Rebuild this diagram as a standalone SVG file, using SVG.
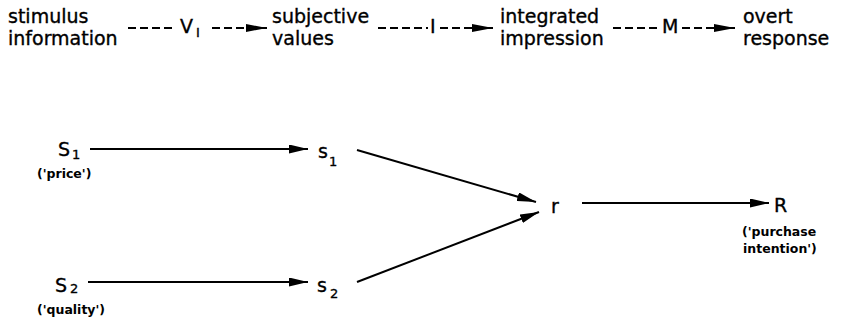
<svg xmlns="http://www.w3.org/2000/svg" width="841" height="321" viewBox="0 0 841 321">
<style>
text{font-family:"DejaVu Sans","Liberation Sans",sans-serif;fill:#000;stroke:#000;stroke-width:0.35}
.t{font-size:19px}
.b{font-size:19px}
.sub{font-size:13px}
.lab{font-size:12.5px;font-weight:bold;stroke-width:0}
.dash{stroke:#000;stroke-width:2;stroke-dasharray:8 4;fill:none}
.solid{stroke:#000;stroke-width:2;fill:none}
</style>
<defs>
<marker id="ah" markerUnits="userSpaceOnUse" markerWidth="22" markerHeight="8" refX="21" refY="4" orient="auto">
<path d="M0,0 L21,4 L0,8 z" fill="#000"/>
</marker>
<marker id="ab" markerUnits="userSpaceOnUse" markerWidth="20" markerHeight="9" refX="19" refY="4.5" orient="auto">
<path d="M0,0 L19,4.5 L0,9 z" fill="#000"/>
</marker>
</defs>
<g id="connectors">
<line class="dash" x1="128" y1="28" x2="176" y2="28"/>
<line class="dash" x1="212" y1="28" x2="267" y2="28" marker-end="url(#ah)"/>
<line class="dash" x1="378" y1="28" x2="428" y2="28"/>
<line class="dash" x1="440" y1="28" x2="493" y2="28" marker-end="url(#ah)"/>
<line class="dash" x1="613" y1="28" x2="660" y2="28"/>
<line class="dash" x1="682" y1="28" x2="735" y2="28" marker-end="url(#ah)"/>
<text class="t" x="180" y="33">V</text>
<text class="sub" x="196" y="37">I</text>
<text class="t" x="430" y="33">I</text>
<text class="t" x="662" y="33">M</text>
<line class="solid" x1="90" y1="149" x2="308" y2="149" marker-end="url(#ab)"/>
<line class="solid" x1="88" y1="282" x2="308" y2="282" marker-end="url(#ab)"/>
<line class="solid" x1="357" y1="150" x2="536" y2="202" marker-end="url(#ab)"/>
<line class="solid" x1="357" y1="282" x2="539" y2="212" marker-end="url(#ab)"/>
<line class="solid" x1="582" y1="203" x2="769" y2="203" marker-end="url(#ab)"/>
</g>
<g id="stimulus"><text class="t" x="8" y="23">stimulus</text><text class="t" x="8" y="45">information</text></g>
<g id="subjective"><text class="t" x="272" y="23">subjective</text><text class="t" x="272" y="45">values</text></g>
<g id="integrated"><text class="t" x="500" y="23">integrated</text><text class="t" x="500" y="45">impression</text></g>
<g id="overt"><text class="t" x="743" y="23">overt</text><text class="t" x="743" y="45">response</text></g>
<g id="S1"><text class="b" x="58" y="156">S</text><text class="sub" x="72" y="159">1</text><text class="lab" x="37" y="178">('price')</text></g>
<g id="S2"><text class="b" x="55" y="292">S</text><text class="sub" x="70" y="293">2</text><text class="lab" x="37" y="314">('quality')</text></g>
<g id="s1"><text class="b" x="318" y="158">s</text><text class="sub" x="329" y="166">1</text></g>
<g id="s2"><text class="b" x="317" y="292">s</text><text class="sub" x="330" y="298">2</text></g>
<g id="r"><text class="b" x="551" y="213">r</text></g>
<g id="R"><text class="b" x="774" y="212">R</text><text class="lab" x="742" y="236">('purchase</text><text class="lab" x="743" y="253">intention')</text></g>
</svg>
